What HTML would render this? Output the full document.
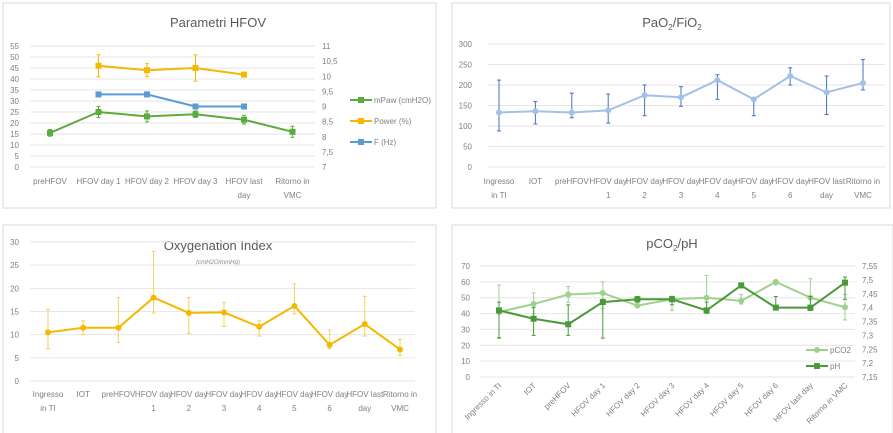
<!DOCTYPE html>
<html><head><meta charset="utf-8"><style>
html,body{margin:0;padding:0;background:#fff;}
svg{display:block;font-family:"Liberation Sans",sans-serif;}
</style></head><body>
<svg id="root" width="893" height="433" viewBox="0 0 893 433">
<rect x="3" y="3" width="433" height="205" fill="#fff" stroke="#d9d9d9"/>
<rect x="452" y="3" width="438" height="205" fill="#fff" stroke="#d9d9d9"/>
<rect x="3" y="225" width="433" height="210" fill="#fff" stroke="#d9d9d9"/>
<rect x="452" y="225" width="441" height="210" fill="#fff" stroke="#d9d9d9"/>
<text x="218" y="27" font-size="13" fill="#595959" text-anchor="middle">Parametri HFOV</text>
<text x="672" y="27" font-size="13" fill="#595959" text-anchor="middle">PaO<tspan font-size="8" dy="3">2</tspan><tspan dy="-3">/FiO</tspan><tspan font-size="8" dy="3">2</tspan></text>
<text x="218" y="250" font-size="13" fill="#595959" text-anchor="middle">Oxygenation Index</text>
<text x="218" y="264" font-size="6" fill="#888" font-style="italic" text-anchor="middle">(cmH2O/mmHg)</text>
<text x="672" y="248" font-size="13" fill="#595959" text-anchor="middle">pCO<tspan font-size="8" dy="3">2</tspan><tspan dy="-3">/pH</tspan></text>
</svg>
<script>
// Panel 1 data
const hfovCats=["preHFOV","HFOV day 1","HFOV day 2","HFOV day 3","HFOV last|day","Ritorno in|VMC"];
const mpawVals=[15.5,25,23,24,21.5,16];
const mpawErr=[1.5,2.5,2.5,1.5,2,2.5];
const powerVals=[null,46,44,45,42,null];
const powerErr=[null,5,3,6,1,null];
const freqVals=[null,9.4,9.4,9,9,null];
const hfovLeftTicks=[0,5,10,15,20,25,30,35,40,45,50,55];
const hfovRightTicks=["7","7,5","8","8,5","9","9,5","10","10,5","11"];
// Panel 2 data
const longCats=["Ingresso|in TI","IOT","preHFOV","HFOV day|1","HFOV day|2","HFOV day|3","HFOV day|4","HFOV day|5","HFOV day|6","HFOV last|day","Ritorno in|VMC"];
const pfVals=[133,136,133,138,175,170,212,165,222,182,205];
const pfLow=[88,105,120,107,125,148,165,125,200,128,188];
const pfHigh=[212,160,180,178,200,196,225,165,242,222,262];
const pfTicks=[0,50,100,150,200,250,300];
// Panel 3 data
const oiVals=[10.5,11.5,11.5,18,14.7,14.8,11.7,16.2,7.8,12.3,6.8];
const oiLow=[7,10,8.3,14.7,10.3,11.8,9.7,14.5,7,9.7,5.5];
const oiHigh=[15.5,13,18,28,18,17,13,21,11,18.3,9];
const oiTicks=[0,5,10,15,20,25,30];
// Panel 4 data
const rotCats=["Ingresso in TI","IOT","preHFOV","HFOV day 1","HFOV day 2","HFOV day 3","HFOV day 4","HFOV day 5","HFOV day 6","HFOV last day","Ritorno in VMC"];
const pco2Vals=[41,46,52,53,45,49,50,48,60,50,44];
const pco2Low=[25,40,47,43,44,42,40,46,58,42,36];
const pco2High=[58,53,57,60,50,51,64,52,61,62,52];
const phVals=[7.39,7.36,7.34,7.42,7.43,7.43,7.39,7.48,7.40,7.40,7.49];
const phLow=[7.29,7.30,7.30,7.29,7.42,7.41,7.38,7.48,7.40,7.39,7.43];
const phHigh=[7.42,7.40,7.41,7.43,7.44,7.44,7.42,7.48,7.44,7.44,7.51];
const pco2Ticks=[0,10,20,30,40,50,60,70];
const phTicks=["7,15","7,2","7,25","7,3","7,35","7,4","7,45","7,5","7,55"];

const NS="http://www.w3.org/2000/svg";
const root=document.getElementById('root');
function mk(tag,attrs,parent){const e=document.createElementNS(NS,tag);for(const k in attrs)e.setAttribute(k,attrs[k]);(parent||root).appendChild(e);return e;}
function lin(d0,d1,r0,r1){return v=>r0+(v-d0)*(r1-r0)/(d1-d0);}
function grid(ticks,y,x0,x1,lx,anchor){ticks.forEach(t=>{
  const l=mk('line',{x1:x0,x2:x1,y1:y(t),y2:y(t),stroke:'#e6e6e6','stroke-width':1});
  
  
  const tx=mk('text',{x:lx,y:y(t)+3,'font-size':8,fill:'#7f7f7f','text-anchor':anchor});tx.textContent=t;
  
  
});}
function rticks(labels,y0,y1,lx){labels.forEach((t,i)=>{const y=y0+(y1-y0)*i/(labels.length-1);
  const tx=mk('text',{x:lx,y:y+3,'font-size':8,fill:'#7f7f7f'});tx.textContent=t;
  
  });}
function catLabels(cats,x,y){cats.forEach((c,i)=>{c.split('|').forEach((p,j)=>{
  const tx=mk('text',{x:x(i),y:y+j*14,'font-size':8,fill:'#7f7f7f','text-anchor':'middle'});tx.textContent=p;
  
  });});}
function series(vals,x,y,color,w,marker,name,lo,hi,ecolor){
  if(lo){vals.forEach((v,i)=>{if(v==null)return;
    const g=mk('g',{stroke:ecolor||color,'stroke-width':1});
    
    
    mk('line',{x1:x(i),x2:x(i),y1:y(lo[i]),y2:y(hi[i])},g);
    mk('line',{x1:x(i)-2,x2:x(i)+2,y1:y(lo[i]),y2:y(lo[i])},g);
    mk('line',{x1:x(i)-2,x2:x(i)+2,y1:y(hi[i]),y2:y(hi[i])},g);});}
  let d='';vals.forEach((v,i)=>{if(v==null)return;d+=(d?'L':'M')+x(i)+' '+y(v);});
  const p=mk('path',{d:d,fill:'none',stroke:color,'stroke-width':w});
  
  
  vals.forEach((v,i)=>{if(v==null)return;
    const m=marker==='sq'?mk('rect',{x:x(i)-3,y:y(v)-3,width:6,height:6,fill:color}):mk('circle',{cx:x(i),cy:y(v),r:3,fill:color});
    
    });
}
function legend(x,y,color,label,marker,w){
  const l=mk('line',{x1:x,x2:x+22,y1:y,y2:y,stroke:color,'stroke-width':w});
  
  
  const m=marker==='sq'?mk('rect',{x:x+8,y:y-3,width:6,height:6,fill:color}):mk('circle',{cx:x+11,cy:y,r:3,fill:color});
  
  
  const t=mk('text',{x:x+24,y:y+3,'font-size':8,fill:'#7f7f7f'});t.textContent=label;
  
  
}
// Panel 1
{const x=i=>50+i*48.5, y=lin(0,55,167,46), y2=lin(7,11,167,46);
 grid(hfovLeftTicks,y,30,315,19,'end');
 rticks(hfovRightTicks,167,46,322);
 catLabels(hfovCats,x,184);
 series(mpawVals,x,y,'#5aac3c',2,'sq','mpaw',mpawVals.map((v,i)=>v-mpawErr[i]),mpawVals.map((v,i)=>v+mpawErr[i]));
 series(powerVals,x,y,'#f5b800',2,'sq','power',powerVals.map((v,i)=>v==null?null:v-powerErr[i]),powerVals.map((v,i)=>v==null?null:v+powerErr[i]));
 series(freqVals,x,y2,'#5b9bd5',2,'sq','freq');
 legend(350,100,'#5aac3c','mPaw (cmH2O)','sq',2);
 legend(350,121,'#f5b800','Power (%)','sq',2);
 legend(350,142,'#5b9bd5','F (Hz)','sq',2);}
// Panel 2
{const x=i=>499+i*36.4, y=lin(0,300,167,44);
 grid(pfTicks,y,488,885,472,'end');
 catLabels(longCats,x,184);
 series(pfVals,x,y,'#a4c0e6',2,'c','pao2',pfLow,pfHigh,'#4472c4');}
// Panel 3
{const x=i=>48+i*35.2, y=lin(0,30,381,242);
 grid(oiTicks,y,30,415,19,'end');
 catLabels(longCats,x,397);
 series(oiVals,x,y,'#f5b800',2,'c','oi',oiLow,oiHigh,'#f8cf5a');}
// Panel 4
{const x=i=>499+i*34.6, y=lin(0,70,377,266), y2=lin(7.15,7.55,377,266);
 grid(pco2Ticks,y,480,855,470,'end');
 rticks(phTicks,377,266,862);
 rotCats.forEach((c,i)=>{const t=mk('text',{x:x(i)+3,y:386,'font-size':8,fill:'#7f7f7f','text-anchor':'end',transform:`rotate(-45 ${x(i)+3} 386)`});t.textContent=c;
   
   });
 series(pco2Vals,x,y,'#9fd18e',2,'c','pco2',pco2Low,pco2High);
 series(phVals,x,y2,'#4a9a3a',2,'sq','ph',phLow,phHigh);
 legend(806,350,'#9fd18e','pCO2','c',2);
 legend(806,366,'#4a9a3a','pH','sq',2);}
</script>
</body></html>
